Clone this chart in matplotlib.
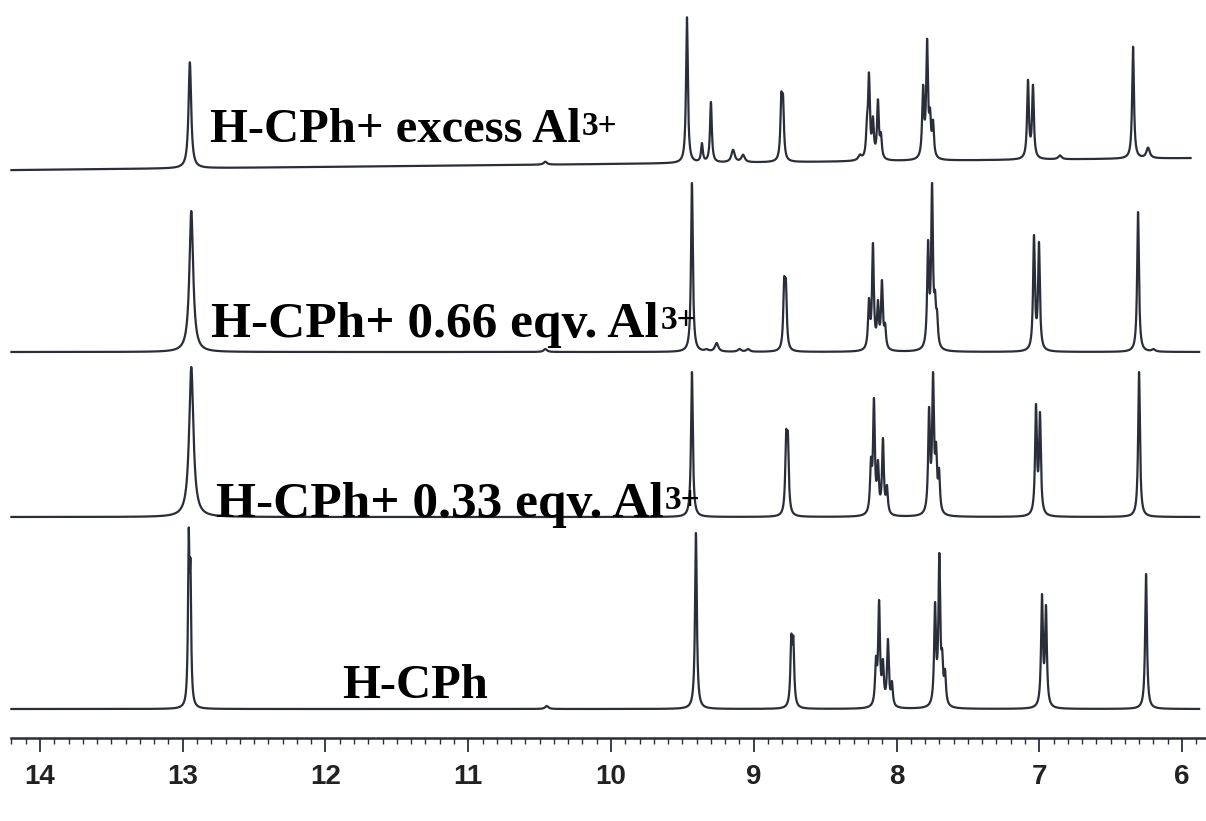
import numpy as np
import matplotlib
matplotlib.use('Agg')
import matplotlib.pyplot as plt
from matplotlib.ticker import MultipleLocator, FixedLocator

# peak positions (ppm) and heights above baseline (px)
labels = ['H-CPh+ excess Al', 'H-CPh+ 0.66 eqv. Al',
          'H-CPh+ 0.33 eqv. Al', 'H-CPh']
label_sup = ['3+', '3+', '3+', '']

shift_excess = [12.95, 10.46, 9.468, 9.363, 9.30, 9.145, 9.075, 8.807, 8.795,
                8.256, 8.207, 8.193, 8.165, 8.13, 8.109, 7.814, 7.786, 7.765,
                7.744, 7.079, 7.044, 6.855, 6.343, 6.238]
height_excess = [106, 3, 146, 20, 61, 13, 8, 70, 68,
                 7, 45, 89, 45, 62, 29, 76, 122, 53,
                 41, 80, 75, 4, 112, 11]

shift_066 = [12.94, 10.46, 9.433, 9.33, 9.26, 9.10, 9.04, 8.787, 8.775,
             8.193, 8.165, 8.13, 8.102, 8.08, 7.779, 7.751, 7.73, 7.716,
             7.037, 7.002, 6.308, 6.20]
height_066 = [141, 3, 169, 3, 9, 3, 3, 75, 73,
              54, 109, 52, 72, 29, 112, 169, 62, 42,
              117, 110, 140, 3]

shift_033 = [12.94, 9.433, 8.773, 8.761, 8.179, 8.158, 8.13, 8.095, 8.067,
             7.772, 7.744, 7.723, 7.702, 7.023, 6.995, 6.301]
height_033 = [150, 145, 87, 85, 60, 119, 57, 79, 32,
              110, 145, 75, 49, 113, 105, 145]

shift_free = [12.958, 12.946, 10.45, 9.405, 8.737, 8.723, 8.144, 8.122, 8.095,
              8.06, 8.032, 7.73, 7.70, 7.68, 7.66, 6.981, 6.953, 6.252]
height_free = [181, 150, 3, 176, 75, 73, 53, 109, 50,
               70, 28, 107, 156, 60, 40, 115, 104, 135]

tick_labels = ['14', '13', '12', '11', '10', '9', '8', '7', '6']

spectra = [(shift_excess, height_excess), (shift_066, height_066),
           (shift_033, height_033), (shift_free, height_free)]

H = 821
base_pix = [164, 352, 517, 709]
tilt = [-1.45, 0, 0, 0]
nh_width = [0.011, 0.016, 0.018, 0.006]
label_pos = [(12.81, 130), (12.80, 325), (12.77, 505), (11.88, 686)]
label_size = [35, 37, 37, 35]
ink = '#2a2e3a'


def lor(x, c, g):
    return g * g / ((x - c) ** 2 + g * g)


fig = plt.figure(figsize=(12.06, 8.21), dpi=100)
ax = fig.add_axes([0, 0, 1, 1])
ax.set_xlim(14.28, 5.832)
ax.set_ylim(0, H)

for k, (sh, hh) in enumerate(spectra):
    sh = np.array(sh, float)
    hh = np.array(hh, float)
    g = np.where(sh > 12, nh_width[k], np.where(hh < 15, 0.014, 0.0075))
    M = lor(sh[:, None], sh[None, :], g[None, :])
    amp = np.clip(np.linalg.solve(M, hh), 0, None)
    x_end = 5.94 if k == 0 else 5.88
    x = np.linspace(14.2, x_end, 24000)
    y = (lor(x[:, None], sh[None, :], g[None, :]) * amp).sum(axis=1)
    y0 = H - base_pix[k] + tilt[k] * (x - 10)
    ax.plot(x, y0 + y, color=ink, lw=1.6, solid_joinstyle='round')
    lx, ly = label_pos[k]
    t = ax.text(lx, H - ly, labels[k], family='Liberation Serif', weight='bold',
                fontsize=label_size[k], va='center', ha='left', color='black')
    if label_sup[k]:
        ax.annotate(label_sup[k], xy=(1, 1), xycoords=t, xytext=(1, -2),
                    textcoords='offset points', family='Liberation Serif',
                    weight='bold', fontsize=24, va='top', ha='left',
                    color='black')

for s in ['top', 'left', 'right']:
    ax.spines[s].set_visible(False)
ax.spines['bottom'].set_position(('data', H - 738))
ax.spines['bottom'].set_bounds(14.2, 5.832)
ax.spines['bottom'].set_color(ink)
ax.spines['bottom'].set_linewidth(1.8)
ax.yaxis.set_visible(False)
ax.xaxis.set_major_locator(FixedLocator([14, 13, 12, 11, 10, 9, 8, 7, 6]))
ax.set_xticklabels(tick_labels)
ax.xaxis.set_minor_locator(MultipleLocator(0.1))
ax.tick_params(axis='x', which='major', direction='out', length=10, width=1.3,
               color=ink, pad=9, labelsize=20)
ax.tick_params(axis='x', which='minor', direction='out', length=4, width=1.0,
               color=ink)
for t in ax.get_xticklabels():
    t.set_family('Liberation Sans')
    t.set_weight('bold')
    t.set_color('#222222')

fig.savefig('out.png', dpi=100, facecolor='white')
